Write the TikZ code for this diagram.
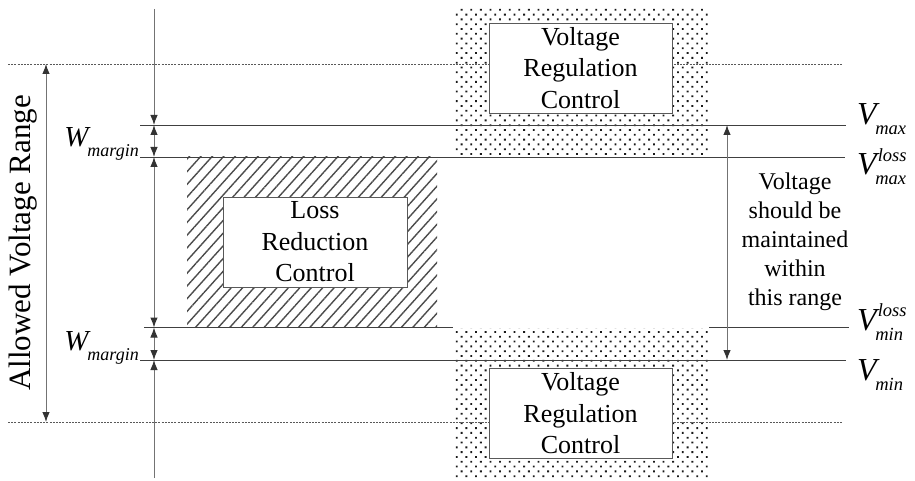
\documentclass[tikz,border=0pt]{standalone}
\usepackage{fontspec}
\setmainfont{Liberation Serif}
\usetikzlibrary{patterns.meta,arrows.meta}
\newcommand{\vlabel}[2]{\fontsize{32}{32}\selectfont\itshape V\kern-1.5pt\fontsize{18.5}{18.5}\selectfont\rlap{\raisebox{13.5pt}{\kern2.5pt #1}}\raisebox{-10pt}{#2}}
\newcommand{\wlabel}{\fontsize{29}{29}\selectfont\itshape W\kern-1pt\fontsize{18}{18}\selectfont\raisebox{-10pt}{margin}}
\begin{document}
\begin{tikzpicture}[x=1pt,y=-1pt,
  >={Latex[length=10pt,width=7.5pt,color=black!80]},
  hline/.style={draw=black!75, line width=0.9pt},
  dotline/.style={draw=black!65, line width=0.8pt, dash pattern=on 2pt off 1.2pt},
  dimline/.style={draw=black!55, line width=1pt},
  dotfill/.style={pattern={Dots[distance=6.8pt,angle=45,radius=1.3pt]}, pattern color=black!90},
  hatchfill/.style={pattern={Lines[angle=48,distance=8.5pt,line width=1.4pt]}, pattern color=black!70},
  ctrlbox/.style={draw=black!65, line width=0.9pt, fill=white, align=center, inner sep=0pt,
    minimum width=183pt, minimum height=90pt, font=\fontsize{26}{31.5}\selectfont},
  sidetext/.style={align=center, inner sep=0pt, font=\fontsize{24}{29}\selectfont}
]
\useasboundingbox (0,0) rectangle (915,481);

% patterned regions
\path[dotfill] (453,7) rectangle (708,157);
\path[dotfill] (453,328) rectangle (708,478);
\path[hatchfill] (187,157) rectangle (437,327);

% dotted limit lines
\coordinate (dTopL) at (8,64);   \coordinate (dTopR) at (842,64);
\coordinate (dBotL) at (8,422);  \coordinate (dBotR) at (842,422);
\draw[dotline] (dTopL) -- (dTopR);
\draw[dotline] (dBotL) -- (dBotR);

% level lines
\coordinate (vmaxL) at (140,125);  \coordinate (vmaxR) at (846,125);
\coordinate (vmlL) at (140,157);   \coordinate (vmlR) at (845,157);
\coordinate (vnlL) at (144,327.5); \coordinate (vnlM1) at (453,327.5);
\coordinate (vnlM2) at (709,327.5); \coordinate (vnlR) at (849,327.5);
\coordinate (vminL) at (140,360);  \coordinate (vminR) at (846,360);
\draw[hline] (vmaxL) -- (vmaxR);
\draw[hline] (vmlL) -- (vmlR);
\draw[hline] (vnlL) -- (vnlM1);
\draw[hline] (vnlM2) -- (vnlR);
\draw[hline] (vminL) -- (vminR);

% boxes
\node[ctrlbox] (vrcTop) at (580.5,68) {Voltage\\Regulation\\Control};
\node[ctrlbox] (vrcBot) at (580.5,413.5) {Voltage\\Regulation\\Control};
\node[ctrlbox, minimum width=184pt] (lrc) at (315,242) {Loss\\Reduction\\Control};

% left dimension arrows
\coordinate (a0) at (154,9);
\coordinate (a1) at (154,125);
\coordinate (a2) at (154,157);
\coordinate (a3) at (154,327.5);
\coordinate (a4) at (154,360);
\coordinate (a5) at (154,478);
\draw[dimline,->] (a0) -- (a1);
\draw[dimline,<->] (a1) -- (a2);
\draw[dimline,<->] (a2) -- (a3);
\draw[dimline,<->] (a3) -- (a4);
\draw[dimline,->] (a5) -- (a4);

% allowed voltage range arrow
\coordinate (r0) at (46,64);
\coordinate (r1) at (46,422);
\draw[dimline,<->] (r0) -- (r1);
\node[rotate=90, inner sep=0pt, font=\fontsize{31}{31}\selectfont] (avr) at (23,243) {Allowed Voltage Range};

% right range arrow
\coordinate (m0) at (727,125);
\coordinate (m1) at (727,360);
\draw[dimline,<->] (m0) -- (m1);
\node[sidetext] (keep) at (795,242) {Voltage\\should be\\maintained\\within\\this range};

% margin labels
\node[anchor=base east, inner sep=0pt] (w1) at (139,147) {\wlabel};
\node[anchor=base east, inner sep=0pt] (w2) at (139,350) {\wlabel};

% level labels
\node[anchor=base west, inner sep=0pt] (lvmax) at (857,125) {\vlabel{}{max}};
\node[anchor=base west, inner sep=0pt] (lvml) at (857,175) {\vlabel{loss}{max}};
\node[anchor=base west, inner sep=0pt] (lvnl) at (857,330) {\vlabel{loss}{min}};
\node[anchor=base west, inner sep=0pt] (lvmin) at (857,380) {\vlabel{}{min}};
\end{tikzpicture}
\end{document}
